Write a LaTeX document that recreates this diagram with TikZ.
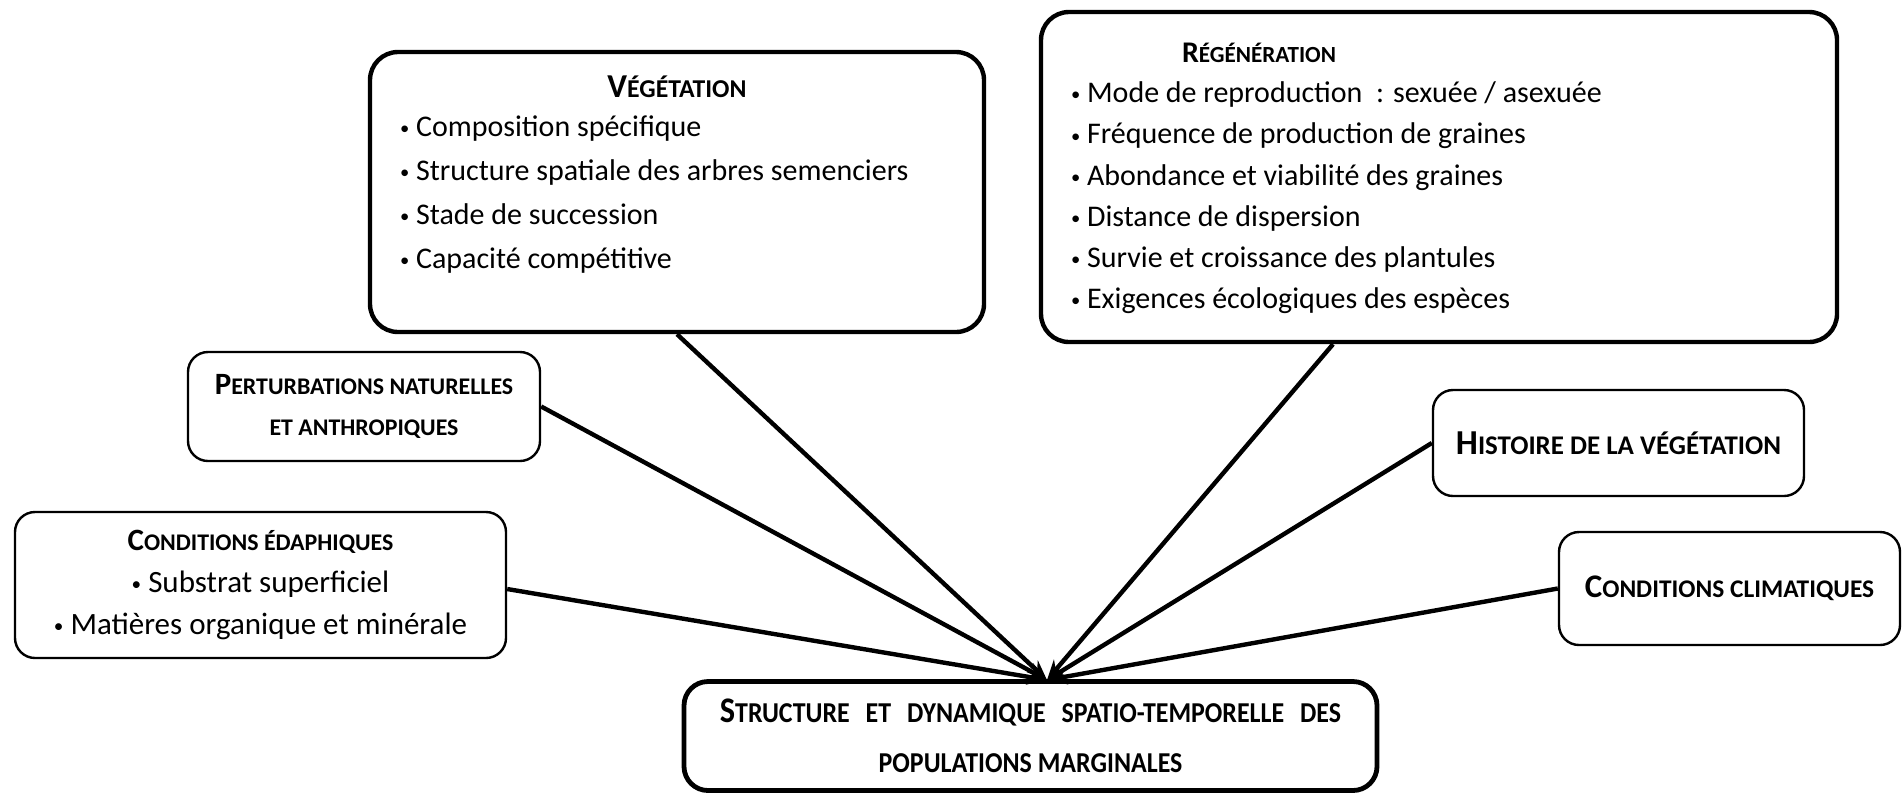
\documentclass[tikz,border=0pt]{standalone}
\usepackage{fontspec}
\setmainfont{Carlito}
\usetikzlibrary{arrows.meta,positioning,calc}
\definecolor{ink}{HTML}{000000}
\makeatletter
\newdimen\smcdim
\newcommand{\smc}[2][0.77]{{\smcdim=#1\dimexpr\f@size pt\relax
  \fontsize{\strip@pt\smcdim}{\f@baselineskip}\selectfont #2}}
\makeatother
\newcommand{\bul}{\raisebox{0.12ex}{\scalebox{0.62}{•}}\ }

\begin{document}
\begin{tikzpicture}[x=0.5pt,y=-0.5pt,
    bigbox/.style={draw=ink,line width=2.2pt,rounded corners=14pt,inner sep=0pt},
    smallbox/.style={draw=ink,line width=1.2pt,rounded corners=10pt,inner sep=0pt,align=center,
      font=\fontsize{16.5}{19}\selectfont\bfseries},
    link/.style={draw=ink,line width=2.2pt,-{Stealth[length=10pt,width=8pt]}}]
  \useasboundingbox (0,0) rectangle (1904,800);

  % Upper boxes
  \node[bigbox] (veg) at (677,192) {\parbox[c][140pt][t]{307pt}{\fontsize{15}{22}\selectfont
    \vspace*{12pt}\centering{\fontsize{16.7}{22}\selectfont\bfseries V\smc{ÉGÉTATION}}\par\vspace{-2.5pt}
    \raggedright\leftskip=15pt
    \bul Composition spécifique\par
    \bul Structure spatiale des arbres semenciers\par
    \bul Stade de succession\par
    \bul Capacité compétitive}};

  \node[bigbox] (regen) at (1439,177) {\parbox[c][165pt][t]{398pt}{\fontsize{15}{20.6}\selectfont
    \vspace*{15.5pt}\raggedright\leftskip=15pt
    \makebox[188pt][c]{\bfseries R\smc{ÉGÉNÉRATION}}\par\vspace{-0.5pt}
    \bul Mode de reproduction \ : sexuée / asexuée\par
    \bul Fréquence de production de graines\par
    \bul Abondance et viabilité des graines\par
    \bul Distance de dispersion\par
    \bul Survie et croissance des plantules\par
    \bul Exigences écologiques des espèces}};

  % Side boxes
  \node[smallbox,minimum width=176pt,minimum height=54.5pt,
    font=\fontsize{15.5}{19}\selectfont\bfseries] (pert) at (364,406.5)
    {P\smc{ERTURBATIONS NATURELLES}\\[1.5pt]\smc{ET ANTHROPIQUES}};
  \node[smallbox,minimum width=245.5pt,minimum height=73pt,
    font=\fontsize{15.5}{19}\selectfont\bfseries] (edaph) at (260.5,585)
    {C\smc{ONDITIONS ÉDAPHIQUES}\\[2pt]
     {\mdseries\bul Substrat superficiel}\\[2pt]
     {\mdseries\bul Matières organique et minérale}};
  \node[smallbox,minimum width=185.5pt,minimum height=53pt,
    font=\fontsize{17.5}{19}\selectfont\bfseries] (hist) at (1618.5,443)
    {H\smc{ISTOIRE DE LA VÉGÉTATION}};
  \node[smallbox,minimum width=170.5pt,minimum height=56.5pt] (clim) at (1729.5,588.5)
    {C\smc{ONDITIONS CLIMATIQUES}};

  % Central box
  \node[smallbox,line width=2.4pt,rounded corners=12pt,minimum width=346.5pt,minimum height=54.5pt,
    font=\fontsize{18}{25}\selectfont\bfseries\addfontfeature{FakeStretch=0.9}] (struct) at (1030.5,736)
    {S\smc[0.8]{TRUCTURE\hspace{5pt} ET\hspace{5pt} DYNAMIQUE\hspace{5pt} SPATIO-TEMPORELLE\hspace{5pt} DES}\\
     \smc[0.8]{POPULATIONS MARGINALES}};

  % Links
  \coordinate (hub) at (1047,680);
  \draw[link] (veg.south) -- (hub);
  \draw[link] ([xshift=-53pt]regen.south) -- (hub);
  \draw[link] (pert.east) -- (hub);
  \draw[link] ([yshift=-2pt]edaph.east) -- (hub);
  \draw[link] (hist.west) -- (hub);
  \draw[link] (clim.west) -- (hub);
\end{tikzpicture}
\end{document}
